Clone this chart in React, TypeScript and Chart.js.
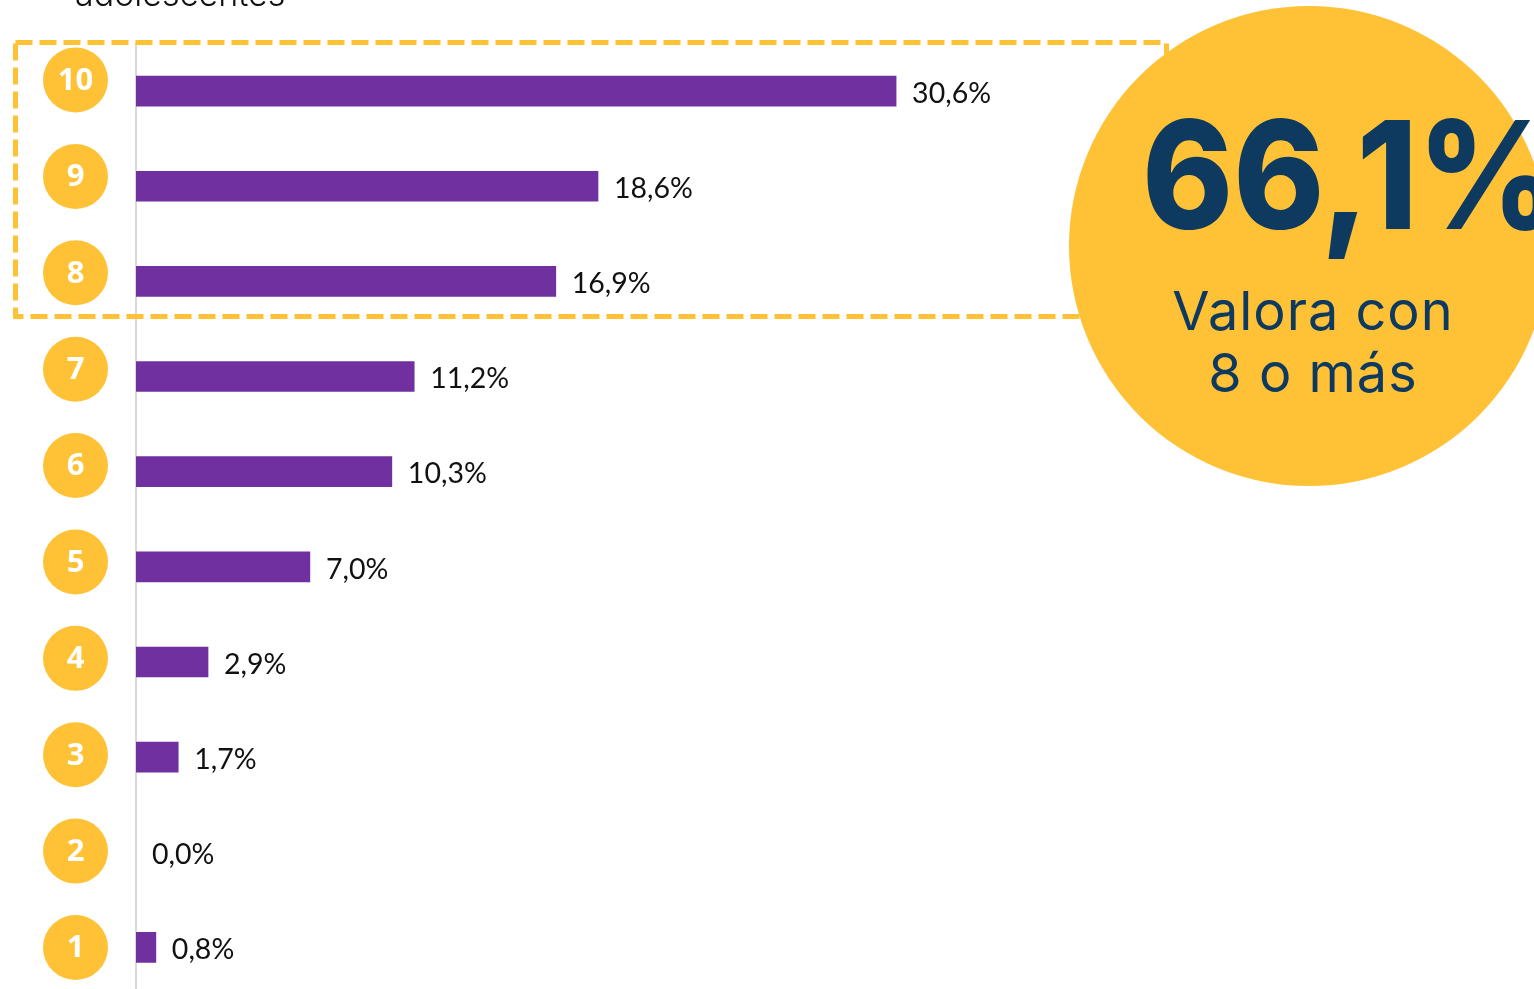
import React, { useEffect, useRef } from 'react';
import { Chart, registerables } from 'chart.js';

Chart.register(...registerables);

const categories = ['10', '9', '8', '7', '6', '5', '4', '3', '2', '1'];
const values = [30.6, 18.6, 16.9, 11.2, 10.3, 7.0, 2.9, 1.7, 0.0, 0.8];
const valueLabels = ['30,6%', '18,6%', '16,9%', '11,2%', '10,3%', '7,0%', '2,9%', '1,7%', '0,0%', '0,8%'];
const highlightValue = '66,1%';
const highlightLines = ['Valora con', '8 o más'];
const headerText = 'adolescentes';

const YELLOW = '#FFC236';
const PURPLE = '#7030A0';
const NAVY = '#0F3A60';

const overlayPlugin = {
  id: 'overlay',
  afterDatasetsDraw(chart: any) {
    const ctx = chart.ctx;
    const meta = chart.getDatasetMeta(0);
    ctx.save();
    ctx.font = '28.5px Lato';
    ctx.fillStyle = '#111111';
    ctx.textAlign = 'left';
    ctx.textBaseline = 'middle';
    meta.data.forEach((bar: any, i: number) => {
      ctx.fillText(valueLabels[i], bar.x + 16, bar.y + 2.5);
    });
    ctx.restore();
  },
  afterDraw(chart: any) {
    const ctx = chart.ctx;
    const yScale = chart.scales.y;
    ctx.save();

    // header text (cut off at top)
    ctx.font = '300 34px Inter';
    ctx.fillStyle = '#111111';
    ctx.textAlign = 'left';
    ctx.textBaseline = 'alphabetic';
    ctx.fillText(headerText, 75, 6);

    // dashed highlight rectangle
    ctx.strokeStyle = YELLOW;
    ctx.lineWidth = 5;
    ctx.setLineDash([17, 7]);
    ctx.strokeRect(15.5, 42.5, 1151, 274);
    ctx.setLineDash([]);

    // category circles
    categories.forEach((c, i) => {
      const cy = yScale.getPixelForTick(i) - 11 + i * 1.23;
      ctx.beginPath();
      ctx.arc(75.5, cy, 32.5, 0, Math.PI * 2);
      ctx.fillStyle = YELLOW;
      ctx.fill();
      ctx.fillStyle = '#FFFFFF';
      ctx.font = 'bold 31px "Open Sans"';
      ctx.textAlign = 'center';
      ctx.textBaseline = 'middle';
      ctx.fillText(c, 75.5, cy + 1);
    });

    // big highlight circle
    ctx.beginPath();
    ctx.arc(1309, 246, 240, 0, Math.PI * 2);
    ctx.fillStyle = YELLOW;
    ctx.fill();

    ctx.fillStyle = NAVY;
    ctx.textAlign = 'left';
    ctx.textBaseline = 'alphabetic';
    ctx.save();
    ctx.translate(1142, 229);
    ctx.scale(0.92, 1);
    ctx.font = '800 150px Inter';
    ctx.fillText(highlightValue, 0, 0);
    ctx.restore();

    ctx.textAlign = 'center';
    ctx.font = '400 54px Inter';
    (ctx as any).letterSpacing = '1px';
    ctx.fillText(highlightLines[0], 1313, 330);
    ctx.fillText(highlightLines[1], 1313, 392);
    (ctx as any).letterSpacing = '0px';

    ctx.restore();
  },
};

export default function App() {
  const canvasRef = useRef<HTMLCanvasElement | null>(null);

  useEffect(() => {
    document.body.style.margin = '0';
    document.body.style.overflow = 'hidden';
    const canvas = canvasRef.current;
    if (!canvas) return;
    const chart = new Chart(canvas, {
      type: 'bar',
      data: {
        labels: categories,
        datasets: [
          {
            data: values,
            backgroundColor: (c: any) => (values[c.dataIndex] === 0 ? 'rgba(0,0,0,0)' : PURPLE),
            borderWidth: 0,
            barThickness: 30,
          },
        ],
      },
      options: {
        indexAxis: 'y',
        animation: false,
        responsive: false,
        devicePixelRatio: 1,
        layout: { padding: { top: 43.5, right: 156, bottom: 0, left: 0 } },
        plugins: {
          legend: { display: false },
          title: { display: false },
          tooltip: { enabled: false },
        },
        scales: {
          x: { display: false, min: 0, max: 50 },
          y: {
            grid: { display: false, drawTicks: false },
            ticks: { display: false },
            border: { display: true, color: '#D9D9D9', width: 2 },
            afterFit: (scale: any) => {
              scale.width = 136;
            },
          },
        },
      },
      plugins: [overlayPlugin],
    });
    return () => chart.destroy();
  }, []);

  return (
    <div style={{ position: 'relative', width: 1534, height: 995, background: '#FFFFFF' }}>
      <canvas ref={canvasRef} width={1534} height={995} style={{ width: 1534, height: 995, display: 'block' }} />
    </div>
  );
}
